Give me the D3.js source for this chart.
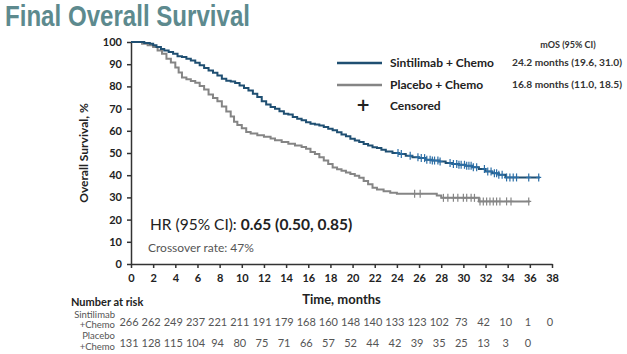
<!DOCTYPE html>
<html>
<head>
<meta charset="utf-8">
<script src="https://cdn.jsdelivr.net/npm/d3@7"></script>
<style>
  body { margin: 0; background: #fff; }
  svg { display: block; }
  .axis path, .axis line { stroke: #333; stroke-width: 1.5px; }
  .axis text { font-family: Lato, "Open Sans", sans-serif; font-weight: bold; font-size: 11px; fill: #222; }
</style>
</head>
<body>
<div id="chart"></div>
<script>
//KM curves: [time in months, survival %] after each step
const sintiSteps = [[0,100],[1.2,99.6],[1.7,99.2],[2.0,98.5],[2.3,97.7],[2.7,96.9],[3.0,96.2],[3.4,95.5],[3.8,94.7],[4.2,93.6],[4.6,93.2],[5.0,92.5],[5.4,91.7],[5.8,90.6],[6.2,89.5],[6.6,88.3],[7.0,87.2],[7.4,86.1],[7.8,84.9],[8.2,83.4],[8.6,82.6],[9.0,82.2],[9.4,81.5],[9.8,80.4],[10.2,79.3],[10.6,78.2],[11.0,76.7],[11.4,75.2],[11.8,73.3],[12.2,71.8],[12.6,70.7],[13.0,69.9],[13.4,68.8],[13.8,67.7],[14.2,67.3],[14.6,66.2],[15.0,65.4],[15.4,64.7],[15.8,63.9],[16.2,63.2],[16.6,62.8],[17.0,62.4],[17.4,61.7],[17.8,60.9],[18.2,60.2],[18.6,59.4],[19.0,58.3],[19.4,57.5],[19.8,56.4],[20.2,55.6],[20.6,54.9],[21.0,54.1],[21.4,53.4],[21.8,52.6],[22.2,52.2],[22.6,51.5],[23.0,50.7],[23.6,50.0],[24.2,49.6],[24.8,48.8],[25.4,48.1],[26.0,47.7],[26.6,47.0],[27.2,46.6],[27.8,46.2],[28.4,45.5],[29.0,45.1],[29.6,44.7],[30.2,44.3],[30.8,43.6],[31.4,42.8],[32.0,41.7],[32.6,40.9],[33.2,40.2],[33.8,39.0],[36.9,39.0]];
const placeboSteps = [[0,100],[1.0,99.2],[1.5,98.5],[2.0,97.7],[2.4,96.2],[2.8,94.7],[3.2,92.4],[3.6,90.8],[4.0,88.5],[4.3,86.3],[4.6,84.0],[5.0,83.2],[5.4,82.4],[5.8,81.7],[6.2,80.2],[6.6,78.6],[7.0,76.3],[7.4,74.8],[7.8,73.3],[8.2,71.0],[8.6,68.7],[9.0,66.4],[9.3,64.1],[9.6,62.6],[10.0,61.1],[10.4,59.5],[10.8,58.8],[11.4,58.0],[12.0,57.3],[12.6,56.5],[13.0,55.7],[13.6,55.0],[14.2,54.2],[14.8,53.4],[15.4,52.7],[15.8,51.9],[16.2,50.4],[16.6,49.6],[17.0,48.1],[17.4,46.6],[17.8,45.0],[18.2,43.5],[18.6,42.7],[19.0,42.0],[19.4,41.2],[19.8,40.5],[20.2,39.7],[20.6,38.9],[21.0,37.4],[21.4,35.9],[21.8,34.4],[22.2,33.6],[22.8,32.8],[23.4,32.1],[24.0,31.7],[27.6,30.9],[28.0,29.8],[31.4,28.2],[36.0,28.2]];

//censoring times (months)
const sintiCensored = [24.1,24.4,25.2,25.9,26.2,26.5,26.7,27.0,27.2,27.4,27.7,27.9,28.8,29.1,29.4,29.6,29.8,30.1,30.3,30.5,30.7,30.9,31.2,31.9,32.2,32.5,32.8,33.0,33.2,33.5,33.9,34.2,34.5,34.8,35.9,36.8];
const placeboCensored = [25.6,26.1,28.2,28.6,29.1,29.5,30.0,30.3,30.7,31.0,31.5,31.8,32.1,32.4,32.7,33.0,33.3,33.9,34.3,35.9];

//number at risk, every 2 months from 0
const riskTimes = d3.range(0, 39, 2);
const sintiAtRisk = [266,262,249,237,221,211,191,179,168,160,148,140,133,123,102,73,42,10,1,0];
const placeboAtRisk = [131,128,115,104,94,80,75,71,66,57,52,44,42,39,35,25,13,3,0];

const xTicks = d3.range(0, 39, 2);
const yTicks = d3.range(0, 101, 10);

const colors = {sinti: "#1f4f72", sintiCensor: "#2b6ea6", placebo: "#858585"};

const W = 627, H = 354;
const margin = {top: 42, left: 131},
      width = 421,
      height = 222;

const svg = d3.select("#chart").append("svg").attr("width", W).attr("height", H);

const x = d3.scaleLinear().domain([0, 38]).range([margin.left, margin.left + width]);
const y = d3.scaleLinear().domain([0, 100]).range([margin.top + height, margin.top]);

//title
svg.append("text")
  .attr("x", 5).attr("y", 26)
  .attr("textLength", 245).attr("lengthAdjust", "spacingAndGlyphs")
  .style("font-family", "'Liberation Sans', Arial, sans-serif")
  .style("font-size", "30px").style("font-weight", "bold")
  .style("fill", "#5d8a8e")
  .text("Final Overall Survival");

//axes
svg.append("g").attr("class", "axis")
  .attr("transform", "translate(0," + y(0) + ")")
  .call(d3.axisBottom(x).tickValues(xTicks).tickSize(4).tickPadding(6).tickSizeOuter(0));
svg.append("g").attr("class", "axis")
  .attr("transform", "translate(" + x(0) + ",0)")
  .call(d3.axisLeft(y).tickValues(yTicks).tickSize(4).tickPadding(5).tickSizeOuter(0));

svg.append("text")
  .attr("transform", "translate(88," + (margin.top + height / 2) + ") rotate(-90)")
  .attr("text-anchor", "middle")
  .style("font-family", "Lato, sans-serif").style("font-weight", "bold").style("font-size", "12px")
  .style("fill", "#222")
  .text("Overall Survival, %");

svg.append("text")
  .attr("x", x(19)).attr("y", 304)
  .attr("text-anchor", "middle")
  .style("font-family", "Lato, sans-serif").style("font-weight", "bold").style("font-size", "13px")
  .style("fill", "#222")
  .text("Time, months");

//curves
const line = d3.line().x(d => x(d[0])).y(d => y(d[1])).curve(d3.curveStepAfter);

function survAt(steps, t) {
  let s = steps[0][1];
  for (const d of steps) { if (d[0] <= t) s = d[1]; }
  return s;
}

function drawCurve(steps, censored, color, censorColor) {
  svg.append("path").datum(steps)
    .attr("d", line)
    .attr("fill", "none")
    .attr("stroke", color)
    .attr("stroke-width", 2);
  const g = svg.append("g");
  censored.forEach(t => {
    const cx = x(t), cy = y(survAt(steps, t));
    g.append("line").attr("x1", cx).attr("x2", cx).attr("y1", cy - 4).attr("y2", cy + 4)
      .attr("stroke", censorColor).attr("stroke-width", 1.2);
    g.append("line").attr("x1", cx - 2.5).attr("x2", cx + 2.5).attr("y1", cy).attr("y2", cy)
      .attr("stroke", censorColor).attr("stroke-width", 1.2);
  });
}
drawCurve(placeboSteps, placeboCensored, colors.placebo, colors.placebo);
drawCurve(sintiSteps, sintiCensored, colors.sinti, colors.sintiCensor);

//legend
const legFont = "Lato, sans-serif";
svg.append("text").attr("x", 568).attr("y", 48).attr("text-anchor", "middle")
  .style("font-family", legFont).style("font-size", "9px").style("font-weight", "bold").style("fill", "#333")
  .text("mOS (95% CI)");

const legendRows = [
  {label: "Sintilimab + Chemo", mos: "24.2 months (19.6, 31.0)", color: colors.sinti, yy: 63},
  {label: "Placebo + Chemo", mos: "16.8 months (11.0, 18.5)", color: colors.placebo, yy: 85}
];
legendRows.forEach(r => {
  svg.append("line").attr("x1", 337).attr("x2", 382).attr("y1", r.yy).attr("y2", r.yy)
    .attr("stroke", r.color).attr("stroke-width", 2.5);
  svg.append("text").attr("x", 390).attr("y", r.yy + 4)
    .style("font-family", legFont).style("font-size", "12px").style("font-weight", "bold").style("fill", "#222")
    .text(r.label);
  svg.append("text").attr("x", 512).attr("y", r.yy + 3)
    .attr("textLength", 110).attr("lengthAdjust", "spacingAndGlyphs")
    .style("font-family", legFont).style("font-size", "9.5px").style("font-weight", "bold").style("fill", "#333")
    .text(r.mos);
});
svg.append("text").attr("x", 363).attr("y", 111).attr("text-anchor", "middle")
  .style("font-family", "'DejaVu Sans', sans-serif").style("font-size", "17px").style("font-weight", "bold").style("fill", "#222")
  .text("+");
svg.append("text").attr("x", 390).attr("y", 110)
  .style("font-family", legFont).style("font-size", "12px").style("font-weight", "bold").style("fill", "#222")
  .text("Censored");

//HR and crossover
const hr = svg.append("text").attr("x", 150).attr("y", 230)
  .style("font-family", legFont).style("font-size", "15.5px").style("fill", "#222");
hr.append("tspan").text("HR (95% CI): ");
hr.append("tspan").style("font-weight", "bold").text("0.65 (0.50, 0.85)");
svg.append("text").attr("x", 148).attr("y", 252)
  .style("font-family", legFont).style("font-size", "12px").style("fill", "#555")
  .text("Crossover rate: 47%");

//number at risk table
svg.append("text").attr("x", 71).attr("y", 306)
  .style("font-family", legFont).style("font-size", "11px").style("font-weight", "bold").style("fill", "#222")
  .text("Number at risk");

const rowLabels = [["Sintilimab", "+Chemo", 318, 328, sintiAtRisk, 326], ["Placebo", "+Chemo", 339, 350, placeboAtRisk, 347]];
rowLabels.forEach(r => {
  svg.append("text").attr("x", 115).attr("y", r[2]).attr("text-anchor", "end")
    .style("font-family", legFont).style("font-size", "9.5px").style("fill", "#555").text(r[0]);
  svg.append("text").attr("x", 115).attr("y", r[3]).attr("text-anchor", "end")
    .style("font-family", legFont).style("font-size", "9.5px").style("fill", "#555").text(r[1]);
  svg.append("g").selectAll("text")
    .data(r[4])
    .enter().append("text")
    .attr("x", (d, i) => x(riskTimes[i]) - 2)
    .attr("y", r[5])
    .attr("text-anchor", "middle")
    .style("font-family", legFont).style("font-size", "11px").style("fill", "#555")
    .text(d => d);
});
</script>
</body>
</html>
